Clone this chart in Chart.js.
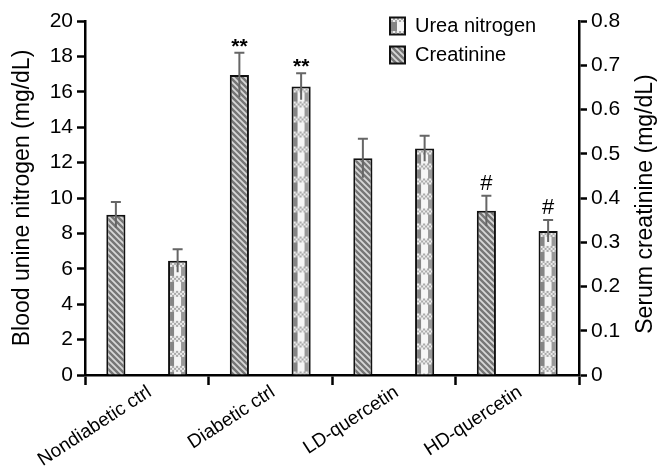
<!DOCTYPE html>
<html><head><meta charset="utf-8">
<script src="https://cdn.jsdelivr.net/npm/chart.js@4"></script>
<style>html,body{margin:0;background:#fff}</style>
</head><body>
<canvas id="c" width="666" height="470"></canvas>
<script>
// group labels and values
const groups=['Nondiabetic ctrl','Diabetic ctrl','LD-quercetin','HD-quercetin'];
const creatinine=[0.362,0.678,0.490,0.371];   // right axis, mg/dL
const creatErr=[0.029,0.050,0.044,0.034];
const creatMarks=['','**','','#'];
const urea=[6.45,16.3,12.8,8.14];             // left axis, mg/dL
const ureaErr=[0.65,0.75,0.72,0.62];
const ureaMarks=['','**','','#'];
const rightTitle='Serum creatinine (mg/dL)';

const FONT='"Liberation Sans", Arial, sans-serif';
Chart.defaults.font.family=FONT;
Chart.defaults.color='#000';

// fills
function diagPattern(){
  const c=document.createElement('canvas'); c.width=c.height=6; const g=c.getContext('2d');
  g.fillStyle='#767676'; g.fillRect(0,0,6,6);
  g.strokeStyle='#d8d8d8'; g.lineWidth=1.8; g.beginPath();
  [[-1,-1,7,7],[-1,5,1,7],[5,-1,7,1]].forEach(s=>{g.moveTo(s[0],s[1]);g.lineTo(s[2],s[3]);});
  g.stroke();
  return g.createPattern(c,'repeat');
}
function checkPattern(){
  const c=document.createElement('canvas'); c.width=19; c.height=15; const g=c.getContext('2d');
  g.fillStyle='#858585'; g.fillRect(0,0,6,15);
  g.fillStyle='#f6f6f6'; g.fillRect(6,0,7,15);
  g.fillStyle='#999'; g.fillRect(13,0,6,15);
  for(let y=0;y<6;y+=2) for(let x=0;x<19;x+=2){ g.fillStyle=((x+y)/2)%2?'#eee':'#aaa'; g.fillRect(x,y,2,2); }
  return g.createPattern(c,'repeat');
}
const diag=diagPattern();
const ureaPats=urea.map(()=>checkPattern());
const legendDiag=diagPattern(), legendCheck=checkPattern();

const extras={id:'extras',
  beforeDatasetsDraw(chart){
    chart.getDatasetMeta(1).data.forEach((el,i)=>ureaPats[i].setTransform(new DOMMatrix([1,0,0,1,el.x-el.width/2,el.y])));
  },
  afterDatasetsDraw(chart){
    const ctx=chart.ctx;
    [[creatinine,creatErr,creatMarks],[urea,ureaErr,ureaMarks]].forEach((set,di)=>{
      const meta=chart.getDatasetMeta(di), sc=chart.scales[meta.yAxisID];
      meta.data.forEach((el,i)=>{
        const v=set[0][i], e=set[1][i];
        const yt=sc.getPixelForValue(v+e), yb=sc.getPixelForValue(v-e);
        ctx.save(); ctx.strokeStyle='#666'; ctx.lineWidth=2;
        ctx.beginPath(); ctx.moveTo(el.x,yb); ctx.lineTo(el.x,yt); ctx.moveTo(el.x-5,yt); ctx.lineTo(el.x+5,yt); ctx.stroke();
        const m=set[2][i];
        if(m){ ctx.fillStyle='#000'; ctx.font=(m==='**'?'bold 21px ':'22px ')+FONT; ctx.textAlign='center';
          const tm=ctx.measureText(m); ctx.fillText(m,el.x,yt-6-tm.actualBoundingBoxDescent); }
        ctx.restore();
      });
    });
  },
  afterDraw(chart){
    // right axis title reads bottom-to-top like the left one
    const ctx=chart.ctx, a=chart.chartArea;
    ctx.save(); ctx.translate(646,(a.top+a.bottom)/2+6); ctx.rotate(-Math.PI/2);
    ctx.font='23px '+FONT; ctx.fillStyle='#000'; ctx.textAlign='center'; ctx.textBaseline='middle';
    ctx.fillText(rightTitle,0,0); ctx.restore();
  },
  afterLayout(chart){
    const lg=chart.legend; if(!lg) return;
    lg.left=381; lg.top=7;
    legendCheck.setTransform(new DOMMatrix([1,0,0,1,391,16]));
  }
};

new Chart(document.getElementById('c'),{
  type:'bar',
  data:{labels:groups,datasets:[
    {label:'Creatinine',data:creatinine,yAxisID:'yR',backgroundColor:diag,borderColor:'#111',borderWidth:2},
    {label:'Urea nitrogen',data:urea,yAxisID:'yL',backgroundColor:ureaPats,borderColor:'#111',borderWidth:2}
  ]},
  options:{
    responsive:false,animation:false,devicePixelRatio:1,
    categoryPercentage:1,barPercentage:0.31,
    layout:{padding:{top:21}},
    plugins:{
      tooltip:{enabled:false},
      legend:{position:'chartArea',align:'start',
        labels:{font:{size:20},boxWidth:15,boxHeight:17,padding:9,color:'#000',
          sort:(a,b)=>b.datasetIndex-a.datasetIndex,
          generateLabels(chart){
            const items=Chart.defaults.plugins.legend.labels.generateLabels(chart);
            items.forEach(it=>{it.fillStyle=it.datasetIndex===1?legendCheck:legendDiag; it.strokeStyle='#111'; it.lineWidth=2;});
            return items;
          }}}
    },
    scales:{
      x:{offset:true,
        grid:{offset:true,drawOnChartArea:false,tickLength:10,tickWidth:2.5,tickColor:'#000'},
        border:{color:'#000',width:2.5},
        ticks:{color:'#000',font:{size:19},minRotation:33,maxRotation:33,labelOffset:3,padding:-4},
        afterFit(s){s.height=95;}},
      yL:{position:'left',min:0,max:20,
        ticks:{stepSize:2,color:'#000',font:{size:21},padding:4},
        grid:{drawOnChartArea:false,tickLength:8,tickWidth:2.5,tickColor:'#000'},
        border:{color:'#000',width:2.5},
        title:{display:true,text:'Blood unine nitrogen (mg/dL)',color:'#000',font:{size:23},padding:{top:9,bottom:0}},
        afterFit(s){s.width=85;}},
      yR:{position:'right',min:0,max:0.8,
        ticks:{stepSize:0.1,color:'#000',font:{size:21},padding:4,callback:v=>v===0?'0':v.toFixed(1)},
        grid:{drawOnChartArea:false,tickLength:8,tickWidth:2.5,tickColor:'#000'},
        border:{color:'#000',width:2.5},
        afterFit(s){s.width=87;}}
    }
  },
  plugins:[extras]
});
</script>
</body></html>
